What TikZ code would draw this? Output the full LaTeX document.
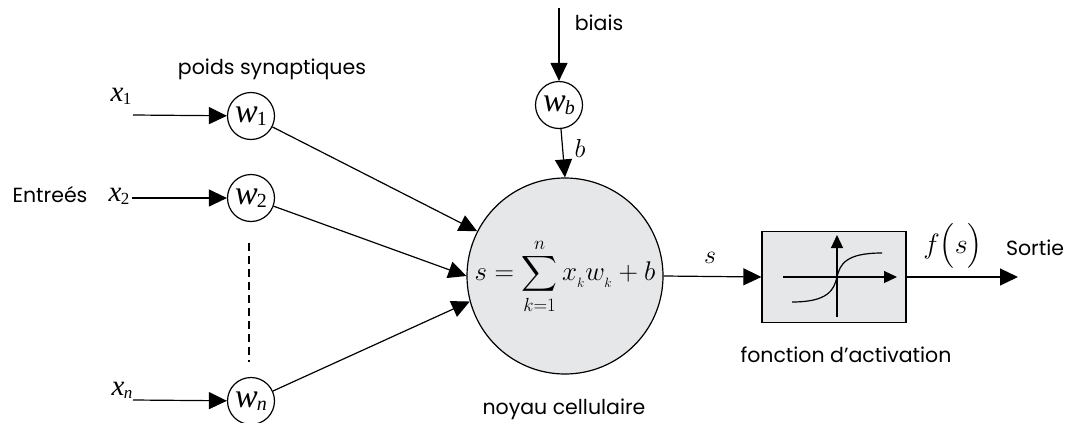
\RequirePackage{fix-cm}
\documentclass[tikz,border=0pt]{standalone}
\usepackage{amsmath}
\usepackage{fontspec}
\setmainfont{Poppins}
\newfontfamily\tms{Liberation Serif}
\usetikzlibrary{arrows.meta}
\definecolor{cellgray}{RGB}{230,231,232}
\newcommand\wlab[3]{{\tms\fontsize{34}{36}\selectfont\itshape #1}\kern-1pt\raisebox{-0.3em}{\tms\fontsize{20}{20}\selectfont #2{#3}}}
\newcommand\xlab[3]{{\tms\fontsize{29}{30}\selectfont\itshape #1}\kern-0.5pt\raisebox{-0.3em}{\tms\fontsize{17}{17}\selectfont #2{#3}}}
\begin{document}
\begin{tikzpicture}[x=1pt,y=-1pt,
  arr/.style={-{Triangle[length=18pt,width=17pt]},line width=1.2pt},
  sarr/.style={-{Triangle[length=13pt,width=12pt]},line width=1.2pt},
  wcirc/.style={circle,draw,line width=1.2pt,minimum size=47pt,inner sep=0pt},
  lab/.style={font=\fontsize{20.5}{22}\selectfont},
  mlab/.style={font=\fontsize{26}{30}\selectfont},
  grayfill/.style={draw,fill=cellgray,line width=1.2pt},
]
\useasboundingbox (0,0) rectangle (1071,423);

% input weights
\node[wcirc] (w1) at (251,116) {\wlab{w}{\upshape}{1}};
\node[wcirc] (w2) at (251,198) {\wlab{w}{\upshape}{2}};
\node[wcirc] (wn) at (251,401) {\wlab{w}{\itshape}{n}};
\node[wcirc] (wb) at (559,105) {\wlab{w}{\itshape}{b}};

% nucleus
\node[circle,grayfill,minimum size=196pt,inner sep=0pt] (big) at (565,276)
  {\fontsize{27}{31}\selectfont$\displaystyle s=\sum_{k=1}^{n}x_{{}_k}w_{{}_k}+b$};

% activation box
\node[rectangle,grayfill,minimum width=144pt,minimum height=91pt] (act) at (834,277) {};

% input labels
\node (x1) at (121,96) {\xlab{x}{\upshape}{1}};
\node (x2) at (119,196) {\xlab{x}{\upshape}{2}};
\node (xn) at (122,390) {\xlab{x}{\itshape}{n}};
\coordinate (x1s) at (133,115);
\coordinate (x2s) at (132,198);
\coordinate (xns) at (133,400);

\draw[arr] (x1s) -- (w1);
\draw[arr] (x2s) -- (w2);
\draw[arr] (xns) -- (wn);

% dashed
\coordinate (d1) at (249,243);
\coordinate (d2) at (249,362);
\draw[line width=1.2pt,dash pattern=on 8pt off 5pt] (d1) -- (d2);

% weights to nucleus
\draw[arr] (w1) -- (big);
\draw[arr] (w2) -- (big.west);
\draw[arr] (wn) -- (big.195);

% bias
\coordinate (btop) at (559,8);
\draw[arr] (btop) -- (wb);
\draw[arr] (wb) -- (big.north);
\node[lab] (biais) at (599,23) {biais};
\node[mlab] (blab) at (580,148) {$b$};

% nucleus to activation
\draw[arr] (big.east) -- (act.west);
\node[mlab] (slab) at (710,258) {$s$};

% sigmoid inside box
\coordinate (ha) at (783,277);
\coordinate (hb) at (897,277);
\coordinate (va) at (837,317);
\coordinate (vb) at (837,235);
\draw[sarr] (ha) -- (hb);
\draw[sarr] (va) -- (vb);
\coordinate (s0) at (792,302);
\coordinate (sm) at (837,277);
\coordinate (s1) at (882,253);
\draw[line width=1.2pt] (s0) .. controls (828,302) and (834,290) .. (sm)
  .. controls (840,264) and (846,253) .. (s1);

% output
\coordinate (out) at (1018,277);
\draw[arr] (act.east) -- (out);
\node[font=\fontsize{28}{32}\selectfont] (fs) at (953,246) {$f\bigl(s\bigr)$};
\node[lab] (sortie) at (1035,248) {Sortie};

% text labels
\node[lab] (entrees) at (50,195) {Entreés};
\node[lab] (poids) at (272,69) {poids synaptiques};
\node[lab] (noyau) at (564,409) {noyau cellulaire};
\node[lab] (fonct) at (846,355) {fonction d’activation};
\end{tikzpicture}
\end{document}
